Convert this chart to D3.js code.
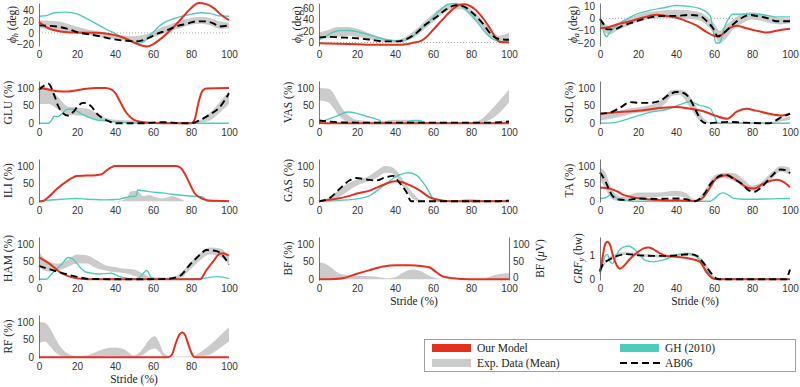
<!DOCTYPE html>
<html>
<head>
<meta charset="utf-8">
<script src="https://cdn.jsdelivr.net/npm/d3@7"></script>
<style>
  body { margin: 0; background: #fff; }
  svg { display: block; }
</style>
</head>
<body>
<svg id="chart"></svg>
<script>
// x ticks shared by every panel
const strideTicks = [0, 20, 40, 60, 80, 100];

// hip angle (deg)
const hipModel = [[0,19],[5,8],[10,3],[15,1],[20,0.5],[30,0],[35,-1],[40,-4],[45,-9],[50,-17],[55,-23],[57,-24],[60,-20],[65,-8],[70,7],[75,25],[80,43],[84,52],[88,50],[92,43],[96,31],[100,22]];
const hipGH = [[0,29],[4,30],[8,35],[14,36],[20,33],[25,25],[30,16],[35,7],[40,-1],[45,-10],[50,-16],[53,-18],[56,-13],[60,1],[65,16],[71,25],[78,31],[85,35],[90,34],[94,30],[100,29]];
const hipAB06 = [[0,13],[9,11],[15,7],[20,1],[25,-2],[32,-6],[39,-11],[46,-14],[51,-15],[57,-10],[62,-2],[67,4],[72,11],[78,16],[83,20],[87,20],[92,16],[95,11],[100,13]];
const hipExp = [[0,8,22],[5,6,21],[10,4,20],[15,2,16],[20,-1,11],[25,-3,6],[30,-6,3],[35,-9,0],[40,-11,-3],[45,-14,-5],[50,-15,-6],[55,-13,-4],[60,-8,2],[65,-2,10],[70,4,16],[75,9,22],[80,14,26],[85,16,28],[90,13,26],[95,7,20],[100,8,18]];

// knee angle (deg)
const kneeModel = [[0,-1],[10,-2],[20,-3],[30,-4],[40,-4],[46,-3],[50,0],[53,2],[56,8],[60,22],[65,40],[70,57],[74,66],[77,67],[80,63],[85,48],[90,25],[93,8],[95,1],[100,0]];
const kneeGH = [[0,5],[3,10],[6,16],[11,21],[16,21],[21,18],[27,13],[32,8],[37,4],[42,2],[48,8],[53,22],[58,37],[63,54],[68,67],[72,68],[77,58],[83,37],[88,16],[93,4],[97,2],[100,3]];
const kneeAB06 = [[0,9],[5,10],[11,9],[20,7.5],[27,5],[34,2],[41,2],[46,6],[51,16],[56,31],[62,45],[67,58],[72,65],[76,63],[81,51],[86,34],[91,13],[95,6],[100,5]];
const kneeExp = [[0,4,18],[5,8,22],[10,10,27],[15,12,27],[20,10,24],[25,7,18],[30,3,12],[35,1,7],[40,0,5],[45,2,9],[50,9,20],[55,22,35],[60,36,50],[65,50,62],[70,58,68],[75,58,68],[80,45,58],[85,28,42],[90,10,24],[95,3,12],[100,6,17]];

// ankle angle (deg)
const ankleModel = [[0,-8],[5,-7],[10,-4.5],[16,-2.4],[21,0],[26,2],[30,3],[35,2],[40,0.7],[45,-2],[51,-6],[56,-11],[61,-14.5],[64,-13.5],[68,-8],[72,-6],[77,-8],[82,-10],[88,-11.5],[93,-10],[100,-8.5]];
const ankleGH = [[0,0.7],[1.2,-7],[2.6,-13.5],[3.5,-15],[5.3,-11],[8.8,-6],[14,-0.6],[19,3.3],[26,6.4],[33,8.4],[40,10.5],[47,9.7],[54,7],[58,2],[59.6,-9.6],[61,-20],[63,-20],[65,-9.6],[67.5,-0.6],[70,3.3],[75,3.3],[82,3.3],[89.5,2],[93,1.2],[100,1.2]];
const ankleAB06 = [[0,-0.6],[1.8,-4.5],[3.5,-9],[7,-9],[12,-6],[17.5,-3.2],[23,-0.6],[28,1.2],[33,2],[40,2],[47,2.8],[52.6,2],[56,-2],[59.6,-8.3],[62,-14.8],[65,-12],[70,-5],[75,0.7],[79,2.8],[82,2],[88,0.2],[93,-2.4],[100,-2.4]];
const ankleExp = [[0,-3,2],[3,-12,-5],[5,-13,-6],[10,-9,-3],[15,-6,0],[20,-3,3],[25,-1,5],[30,0,6],[40,0,7],[50,-1,6],[55,-4,3],[60,-13,-4],[63,-20,-10],[66,-17,-6],[70,-9,-1],[75,-4,4],[80,-1,5],[85,-2,4],[90,-4,2],[95,-5,0],[100,-4,0]];

// muscle activations (%)
const gluModel = [[0,100],[5,96],[10,91],[15,90],[20,94],[25,98],[30,100],[35,100],[38,96],[40,87],[43,58],[46,30],[50,10],[55,3],[60,1],[70,0],[80,0],[82,12],[84,60],[86,92],[88,99],[100,100]];
const gluGH = [[0,0],[5,0],[6.5,8],[8,20],[10,19],[12,27],[15,40],[18,40],[20,34],[25,20],[30,10],[35,7],[40,4],[45,2],[50,1],[60,0],[100,0]];
const gluAB06 = [[0,95],[3,108],[5,112],[8,80],[10,50],[13,27],[15,22],[18,32],[20,45],[23,58],[25,57],[28,45],[30,30],[35,10],[38,3],[40,0],[55,0],[60,2],[65,3],[70,2],[75,0],[80,0],[85,10],[90,25],[95,45],[100,85]];
const gluExp = [[0,55,108],[5,55,100],[10,40,75],[15,25,48],[20,22,45],[25,20,42],[30,12,30],[35,6,16],[40,4,10],[50,2,8],[60,0,5],[70,0,3],[80,0,3],[85,2,10],[90,8,30],[95,30,60],[100,55,92]];

const vasModel = [[0,1],[10,0],[50,0],[100,0]];
const vasGH = [[0,2],[5,12],[10,22],[15,32],[20,28],[25,20],[30,12],[32,8],[33,1],[35,0],[45,0],[47,5],[50,8],[53,8],[55,2],[56,0],[100,0]];
const vasAB06 = [[0,8],[5,5],[10,3],[20,2],[40,2],[60,2],[80,2],[90,2],[95,3],[100,5]];
const vasExp = [[0,65,100],[5,60,98],[8,40,82],[10,25,62],[15,5,25],[20,2,10],[30,1,5],[40,3,10],[45,4,10],[50,3,7],[60,0,3],[80,0,3],[85,2,10],[90,10,35],[95,30,65],[100,60,95]];

const solModel = [[0,27],[10,32],[21,36],[33,44],[40,46],[47,42],[54,35],[61,21],[67,13],[72,33],[77,41],[82,36],[89,27],[96,22],[100,27]];
const solGH = [[0,0],[7,2],[14,11],[21,23],[28,33],[35,39],[42,53],[47,61],[52.6,51],[58,42],[60.5,16],[62,0],[100,0]];
const solAB06 = [[0,27],[5,30],[10.5,44],[16,60],[21,58],[26,58],[31.6,64],[37,83],[40,89],[44,86],[47,72],[51,30],[53.5,6.5],[56,0],[68,4],[75,2],[89,0],[95,16],[100,27]];
const solExp = [[0,8,22],[5,12,28],[10,18,35],[15,25,42],[20,30,45],[25,32,50],[30,38,58],[35,60,82],[38,78,95],[42,80,95],[45,65,90],[48,40,70],[52,10,35],[55,0,12],[58,0,3],[90,0,3],[95,5,12],[100,10,20]];

const iliModel = [[0,0],[2,1],[5,12],[8,28],[10,38],[15,58],[18,68],[20,72],[25,73],[30,74],[33,77],[35,85],[38,96],[40,100],[72,100],[74,97],[76,85],[78,65],[80,42],[82,22],[85,10],[88,4],[90,2],[95,1],[100,0]];
const iliGH = [[0,0],[5,3],[10,5],[15,7],[20,8],[25,6],[30,5],[35,4],[40,5],[43,7],[45,10],[50,14],[51,14],[52,32],[55,30],[60,26],[65,24],[70,20],[75,17],[80,15],[85,13],[86.5,12],[88,1],[90,0],[100,0]];
const iliExp = [[0,0,0],[40,0,0],[44,0,3],[47,0,18],[48,0,27],[50,0,30],[52,0,28],[55,0,15],[58,0,18],[60,0,14],[65,0,8],[68,0,12],[70,0,14],[73,0,10],[75,0,5],[77,0,0],[100,0,0]];

const gasModel = [[0,0],[5,4],[10,8],[15,14],[20,22],[27,31],[34,47],[40,57],[44,54],[48,45],[53,31],[58,12],[62,5],[69,0],[100,0]];
const gasGH = [[0,0],[10,2],[15,4],[21,7.5],[27,17],[32,36],[37,57],[42,74],[47,81],[51,75],[56.5,40],[60,7.5],[62,0],[100,0]];
const gasAB06 = [[0,0],[5.6,9],[11,36],[16,59],[19.6,66],[25,62],[30,59],[35,68],[39,72],[42,55],[46,26],[48.6,0],[90,0],[100,2]];
const gasExp = [[0,0,2],[5,0,10],[10,10,30],[15,28,50],[20,45,62],[25,55,68],[30,65,85],[35,80,100],[38,80,98],[41,65,85],[45,35,55],[50,5,20],[53,0,5],[56,0,1],[72,0,1],[78,0,7],[82,0,6],[88,0,3],[100,0,4]];

const taModel = [[0,39],[5,36],[9,28],[12,19],[17.5,11],[24.5,6],[33,3],[42,2],[51,1],[54,9],[58,40],[61,64],[65,73],[67,74],[72,59],[77,40],[81,36],[86,50],[93,61],[96.5,55],[100,40]];
const taGH = [[0,8],[3,10],[6,20],[8,12],[10,4],[15,1],[20,0],[58,0],[60,7],[63,21],[65,24],[68,16],[70,9],[75,6],[80,6],[90,7],[100,8]];
const taAB06 = [[0,82],[3,55],[5,30],[7,12],[10,5],[15,4],[20,8],[30,7],[40,8],[45,6],[50,0],[52,5],[55,22],[58,48],[61,65],[64,74],[67,74],[70,65],[75,48],[78,32],[81,27],[85,40],[90,70],[95,90],[98,88],[100,80]];
const taExp = [[0,62,95],[3,35,80],[5,15,50],[8,2,22],[12,0,12],[20,8,25],[30,12,25],[40,15,30],[45,10,24],[50,0,5],[55,15,30],[60,55,72],[65,66,80],[70,58,80],[75,45,65],[80,30,45],[85,40,55],[90,60,80],[95,84,100],[100,75,95]];

const hamModel = [[0,62],[5.8,43],[11,20],[16,7.5],[23,1],[30,0],[84,0],[85,1],[88,25],[92,53],[95,72],[97,74],[99,70],[100,67]];
const hamGH = [[0,0],[4,0],[5.8,10],[8.4,25],[12,43],[15.4,62],[18,57],[21.6,34],[25,20],[32,15],[38,17],[42.6,7.5],[49.6,1],[53,5.7],[56.7,25],[59,5.7],[62,0],[85,2],[93.5,7.5],[100,2]];
const hamAB06 = [[0,38],[5.8,28],[12.8,17],[20,7],[27,1],[50,0],[67,1],[74,9],[79.5,42],[85,71],[88,83],[93.5,80],[97,66],[100,42]];
const hamExp = [[0,35,78],[5,22,50],[10,25,45],[15,35,55],[20,45,70],[25,45,68],[30,32,55],[35,25,40],[40,20,35],[45,18,30],[50,10,28],[55,3,15],[60,0,5],[70,0,5],[75,5,20],[80,30,50],[85,55,75],[90,70,90],[95,65,88],[100,40,62]];

const bfModel = [[0,0],[8,1],[12.6,3],[19.6,15],[26.7,26],[33.7,36],[40.7,40],[47.7,40],[54.7,37],[58,34],[61.8,20],[65,8.5],[70.5,3],[79,0],[100,0]];
const bfExp = [[0,0,48],[3,0,45],[6,0,35],[9,0,22],[12,0,14],[18,0,10],[25,0,9],[32,0,6],[36,0,3],[40,0,6],[44,0,18],[48,0,27],[50,0,28],[54,0,22],[58,0,10],[62,0,3],[66,0,0],[86,0,0],[90,0,8],[95,0,15],[100,0,18]];

const rfModel = [[0,0],[68,0],[70,8],[72,40],[74,65],[75.5,70],[77,62],[79,30],[81,5],[82,0],[100,0]];
const rfExp = [[0,40,100],[3,45,98],[6,30,80],[9,12,50],[12,3,25],[16,0,8],[20,0,3],[25,0,5],[30,0,15],[35,2,25],[40,2,28],[45,0,22],[50,0,5],[54,5,20],[58,20,50],[61,25,60],[63,18,45],[66,0,10],[70,0,2],[80,0,2],[85,3,15],[90,8,35],[95,25,60],[100,45,85]];

// vertical ground reaction force (bw)
const grfModel = [[0,0.3],[1.4,0.93],[2.6,1.42],[3.9,1.55],[5.3,1.42],[7,0.93],[8.8,0.58],[10.5,0.44],[12,0.51],[16,0.86],[19,1.07],[23,1.28],[25.4,1.32],[28,1.25],[31.6,1.07],[35,0.96],[40,0.93],[47,0.86],[52.6,0.72],[56,0.3],[59.6,0.03],[61.4,0],[100,0]];
const grfGH = [[0,0.24],[1.4,0.65],[2.6,0.96],[3.9,1.03],[5.3,0.72],[6.7,0.65],[8,0.86],[9.6,1.14],[12,1.32],[14.9,1.38],[17.5,1.28],[21,1.0],[23.7,0.79],[28,0.72],[33,0.79],[38.6,0.96],[44,1.07],[47,1.07],[51,0.93],[54,0.58],[58,0.17],[60.5,0],[100,0]];
const grfAB06 = [[0,0.35],[1.8,0.65],[4.4,0.79],[8.8,0.96],[14,1.04],[21,0.99],[28,0.97],[35,0.97],[42,1.0],[47,1.04],[51,0.97],[54,0.72],[58,0.3],[61.4,0.03],[63,0],[98,0],[99,0.17],[100,0.4]];
const grfExp = [[0,0.3,0.4],[4,0.74,0.86],[8,0.9,1.05],[12,1.0,1.12],[16,1.02,1.12],[20,0.95,1.08],[25,0.92,1.04],[30,0.9,1.02],[35,0.9,1.02],[40,0.94,1.05],[45,0.98,1.1],[50,0.92,1.05],[54,0.65,0.8],[58,0.2,0.4],[61,0,0.05],[100,0,0]];

const legendItems = ['Our Model', 'GH (2010)', 'Exp. Data (Mean)', 'AB06'];

const W = 800, H = 387;
const colX = [39, 319, 600];
const rowY = [3, 81, 159, 237, 315];
const plotW = 190, plotH = 43;
const RED = '#e4301f', TEAL = '#4fcbbc', GREY = '#cbcbcb';
const serif = '"Liberation Serif", "DejaVu Serif", serif';
const sans = '"Liberation Sans", Arial, sans-serif';

const pct = (name) => [[name], [' (%)']];

const panels = [
  { col: 0, row: 0, label: [['ϕ', 'i'], ['h', 'sub'], [' (deg)']], domain: [-23, 52], ticks: [-20, 0, 20, 40], zero: true, off: 27, exp: hipExp, model: hipModel, gh: hipGH, ab: hipAB06 },
  { col: 1, row: 0, label: [['ϕ', 'i'], ['k', 'sub'], [' (deg)']], domain: [-6, 69], ticks: [0, 20, 40, 60], zero: true, off: 22, exp: kneeExp, model: kneeModel, gh: kneeGH, ab: kneeAB06 },
  { col: 2, row: 0, label: [['ϕ', 'i'], ['a', 'sub'], [' (deg)']], domain: [-22.5, 12.5], ticks: [-20, -10, 0, 10], zero: true, off: 27, exp: ankleExp, model: ankleModel, gh: ankleGH, ab: ankleAB06 },
  { col: 0, row: 1, label: pct('GLU'), exp: gluExp, model: gluModel, gh: gluGH, ab: gluAB06 },
  { col: 1, row: 1, label: pct('VAS'), exp: vasExp, model: vasModel, gh: vasGH, ab: vasAB06 },
  { col: 2, row: 1, label: pct('SOL'), exp: solExp, model: solModel, gh: solGH, ab: solAB06 },
  { col: 0, row: 2, label: pct('ILI'), exp: iliExp, model: iliModel, gh: iliGH },
  { col: 1, row: 2, label: pct('GAS'), exp: gasExp, model: gasModel, gh: gasGH, ab: gasAB06 },
  { col: 2, row: 2, label: pct('TA'), exp: taExp, model: taModel, gh: taGH, ab: taAB06 },
  { col: 0, row: 3, label: pct('HAM'), exp: hamExp, model: hamModel, gh: hamGH, ab: hamAB06 },
  { col: 1, row: 3, label: pct('BF'), exp: bfExp, model: bfModel, stride: true, right: true },
  { col: 2, row: 3, label: [['GRF', 'i'], ['y', 'sub'], [' (bw)']], domain: [-0.03, 1.75], ticks: [0, 1], off: 22, exp: grfExp, model: grfModel, gh: grfGH, ab: grfAB06, stride: true },
  { col: 0, row: 4, label: pct('RF'), exp: rfExp, model: rfModel, stride: true },
];

const svg = d3.select('#chart').attr('width', W).attr('height', H);

const x = d3.scaleLinear().domain([0, 100]).range([0, plotW]);

// label pieces: plain, italic, or italic subscript
function addLabel(sel, parts, size) {
  let afterSub = false;
  parts.forEach(([t, style]) => {
    const ts = sel.append('tspan').text(t);
    if (style === 'i') ts.attr('font-style', 'italic');
    if (style === 'sub') {
      ts.attr('font-style', 'italic').attr('font-size', size * 0.72).attr('dy', 3);
      afterSub = true;
    } else if (afterSub) {
      ts.attr('dy', -3);
      afterSub = false;
    }
  });
}

panels.forEach((p) => {
  const domain = p.domain || [-2, 120];
  const ticks = p.ticks || [0, 50, 100];
  const off = p.off || 31;
  const y = d3.scaleLinear().domain(domain).range([plotH, 0]);

  const g = svg.append('g')
    .attr('transform', `translate(${colX[p.col]},${rowY[p.row]})`);

  // dotted zero line for the joint angles
  if (p.zero) {
    g.append('line')
      .attr('x1', 0).attr('x2', plotW)
      .attr('y1', y(0)).attr('y2', y(0))
      .attr('stroke', '#9a9a9a')
      .attr('stroke-width', 0.8)
      .attr('stroke-dasharray', '1,2');
  }

  const area = d3.area()
    .x((d) => x(d[0]))
    .y0((d) => y(d[1]))
    .y1((d) => y(d[2]))
    .curve(d3.curveMonotoneX);

  const line = d3.line()
    .x((d) => x(d[0]))
    .y((d) => y(d[1]))
    .curve(d3.curveMonotoneX);

  g.append('path').datum(p.exp).attr('d', area).attr('fill', GREY);

  if (p.gh) {
    g.append('path').datum(p.gh).attr('d', line)
      .attr('fill', 'none').attr('stroke', TEAL).attr('stroke-width', 1.4);
  }
  g.append('path').datum(p.model).attr('d', line)
    .attr('fill', 'none').attr('stroke', RED).attr('stroke-width', 2);
  if (p.ab) {
    g.append('path').datum(p.ab).attr('d', line)
      .attr('fill', 'none').attr('stroke', '#000').attr('stroke-width', 1.9)
      .attr('stroke-dasharray', '7,4');
  }

  // axes
  const yAxis = g.append('g')
    .call(d3.axisLeft(y).tickValues(ticks).tickSize(0).tickPadding(5).tickFormat(d3.format('d')));
  yAxis.select('.domain').attr('stroke', '#555').attr('stroke-width', 0.8);
  yAxis.selectAll('text').attr('font-family', sans).attr('font-size', 10).attr('fill', '#333');

  const xAxis = g.append('g')
    .attr('transform', `translate(0,${plotH})`)
    .call(d3.axisBottom(x).tickValues(strideTicks).tickSize(0).tickPadding(5));
  xAxis.select('.domain').remove();
  xAxis.selectAll('text').attr('font-family', sans).attr('font-size', 10).attr('fill', '#333');

  if (p.right) {
    const rAxis = g.append('g')
      .attr('transform', `translate(${plotW},0)`)
      .call(d3.axisRight(y).tickValues(ticks).tickSize(0).tickPadding(4));
    rAxis.select('.domain').attr('stroke', '#555').attr('stroke-width', 0.8);
    rAxis.selectAll('text').attr('font-family', sans).attr('font-size', 10).attr('fill', '#333')
      .attr('dy', (d) => (d === 0 ? '0.1em' : '0.32em'));
    const rl = g.append('text')
      .attr('transform', `translate(${plotW + 31},${plotH / 2}) rotate(-90)`)
      .attr('text-anchor', 'middle')
      .attr('dominant-baseline', 'central')
      .attr('font-family', serif).attr('font-size', 11.5).attr('fill', '#222');
    addLabel(rl, [['BF ('], ['μ', 'i'], ['V)']], 11.5);
  }

  const yl = g.append('text')
    .attr('transform', `translate(${-off},${plotH / 2}) rotate(-90)`)
    .attr('text-anchor', 'middle')
    .attr('dominant-baseline', 'central')
    .attr('font-family', serif).attr('font-size', 11.5).attr('fill', '#222');
  addLabel(yl, p.label, 11.5);

  if (p.stride) {
    g.append('text')
      .attr('x', plotW / 2).attr('y', plotH + 25)
      .attr('text-anchor', 'middle')
      .attr('font-family', serif).attr('font-size', 11.5).attr('fill', '#222')
      .text('Stride (%)');
  }
});

// legend
const lg = svg.append('g');
lg.append('rect')
  .attr('x', 424.5).attr('y', 339.5).attr('width', 371).attr('height', 32)
  .attr('fill', '#fff').attr('stroke', '#8a8a8a').attr('stroke-width', 0.8);

const lx = [432, 620], ly = [348, 363];
legendItems.forEach((name, i) => {
  const cx = lx[i % 2], cy = ly[Math.floor(i / 2)];
  if (name === 'AB06') {
    lg.append('line')
      .attr('x1', cx).attr('x2', cx + 40).attr('y1', cy).attr('y2', cy)
      .attr('stroke', '#000').attr('stroke-width', 1.9).attr('stroke-dasharray', '7,4');
  } else {
    const fill = name === 'Our Model' ? RED : name === 'GH (2010)' ? TEAL : GREY;
    lg.append('rect')
      .attr('x', cx).attr('y', cy - 4).attr('width', 39).attr('height', 8)
      .attr('fill', fill);
  }
  lg.append('text')
    .attr('x', cx + 45).attr('y', cy)
    .attr('dominant-baseline', 'central')
    .attr('font-family', serif).attr('font-size', 11.5).attr('fill', '#222')
    .text(name);
});
</script>
</body>
</html>
